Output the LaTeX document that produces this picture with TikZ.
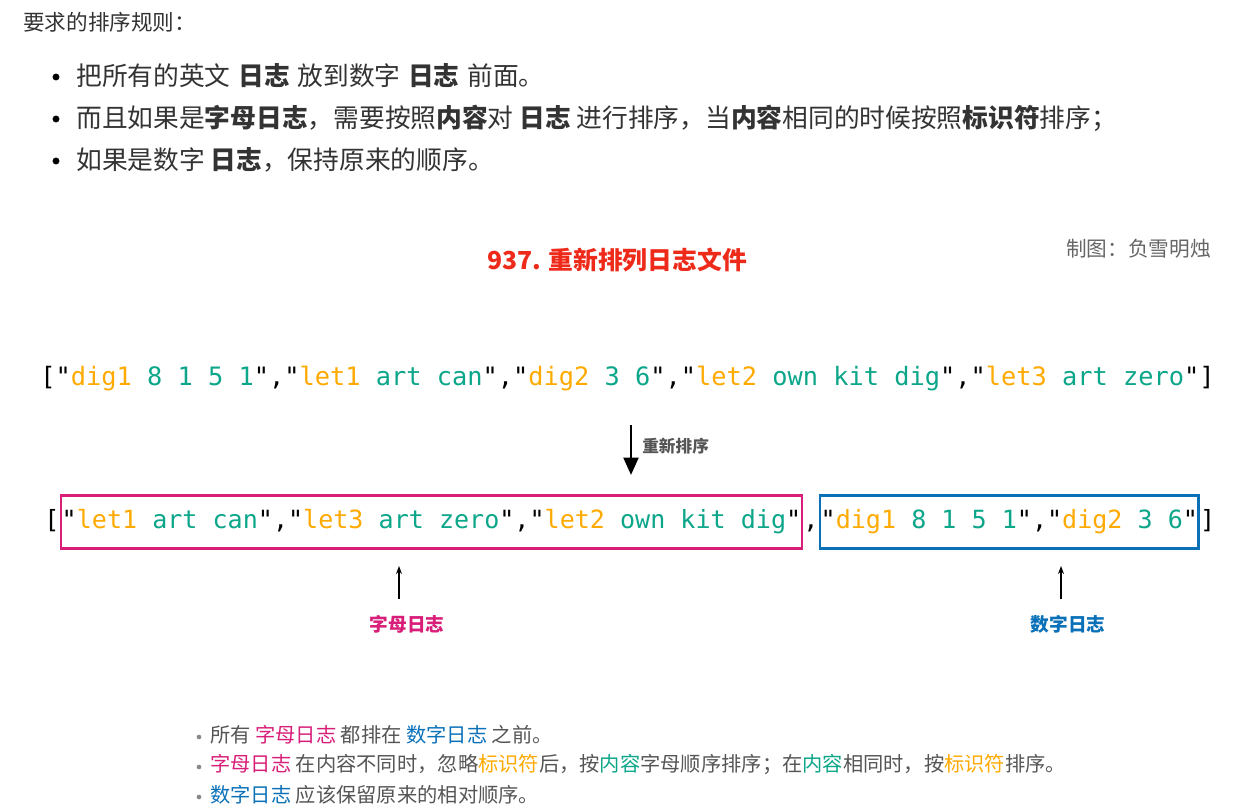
\documentclass[tikz,border=0pt]{standalone}
\usepackage{fontspec}
\setmainfont{Noto Sans CJK SC}
\newfontfamily\codefont{DejaVu Sans Mono}
\usetikzlibrary{arrows.meta,positioning}

\definecolor{keyc}{HTML}{FFAA00}
\definecolor{valc}{HTML}{0CA68A}
\definecolor{letc}{HTML}{D81E78}
\definecolor{digc}{HTML}{0A71B9}
\definecolor{titc}{HTML}{EE2A1A}
\definecolor{txtc}{HTML}{333333}
\definecolor{notec}{HTML}{555555}

\newcommand\ky[1]{\textcolor{keyc}{#1}}
\newcommand\vl[1]{\textcolor{valc}{#1}}
\newcommand\gap{\hspace{0.3em}}

\begin{document}
\begin{tikzpicture}[x=0.75pt,y=-0.75pt,
  code/.style={font=\codefont\fontsize{18.8pt}{22pt}\selectfont,inner sep=0pt,text height=14pt,text depth=4pt},
  logbox/.style={draw=#1,line width=1.9pt,inner xsep=0.5pt,inner ysep=0pt,minimum height=39.5pt},
  line/.style={anchor=west,inner sep=0pt,text=txtc,font=\fontsize{19.3pt}{21pt}\selectfont},
  note/.style={anchor=west,inner sep=0pt,text=notec,font=\fontsize{15.2pt}{17pt}\selectfont},
  dot/.style={circle,fill=#1,inner sep=0pt,minimum size=5.2pt},
  lab/.style={inner sep=0pt,font=\bfseries\fontsize{14pt}{16pt}\selectfont}]
\fill[white] (0,0) rectangle (1254,804);
\useasboundingbox (0,0) rectangle (1254,804);

% rules on top
\node[line,font=\fontsize{16.2pt}{18pt}\selectfont] (head) at (23,22) {要求的排序规则：};
\node[dot=black] (b1) at (56,77) {};
\node[dot=black] (b2) at (56,119) {};
\node[dot=black] (b3) at (56,161) {};
\node[line] (r1) at (76,76) {把所有的英文\gap\textbf{日志}\gap 放到数字\gap\textbf{日志}\gap 前面。};
\node[line] (r2) at (76,118) {而且如果是\textbf{字母日志}，需要按照\textbf{内容}对 \textbf{日志} 进行排序，当\textbf{内容}相同的时候按照\textbf{标识符}排序；};
\node[line] (r3) at (76,160) {如果是数字 \textbf{日志}，保持原来的顺序。};

% title
\node[text=titc,font=\bfseries\fontsize{18.6pt}{20pt}\selectfont] (title) at (617,260) {937. 重新排列日志文件};
\node[anchor=east,inner sep=0pt,text=notec!90,font=\fontsize{15.5pt}{18pt}\selectfont] (author) at (1211,249) {制图：负雪明烛};

% input
\node[code,font=\codefont\fontsize{19pt}{22pt}\selectfont] (orig) at (627.5,379) {["\ky{dig1} \vl{8 1 5 1}","\ky{let1} \vl{art can}","\ky{dig2} \vl{3 6}","\ky{let2} \vl{own kit dig}","\ky{let3} \vl{art zero}"]};

\coordinate (sorttop) at (631,425);
\coordinate (sortbot) at (631,475);
\draw[line width=2.2pt,-{Triangle[length=13pt,width=11pt]}] (sorttop) -- (sortbot);
\node[anchor=west,inner sep=0pt,text=notec,font=\bfseries\fontsize{12.5pt}{14pt}\selectfont] (sortlab) at (642,446) {重新排序};

% output
\node[code] (lbr) at (52,522) {[};
\node[code,logbox=letc,right=0pt of lbr] (letbox) {"\ky{let1} \vl{art can}","\ky{let3} \vl{art zero}","\ky{let2} \vl{own kit dig}"};
\node[code,right=0pt of letbox] (sep) {,};
\node[code,logbox=digc,right=0pt of sep] (digbox) {"\ky{dig1} \vl{8 1 5 1}","\ky{dig2} \vl{3 6}"};
\node[code,right=0pt of digbox] (rbr) {]};

\node[lab,text=letc] (letlab) at (407,624) {字母日志};
\node[lab,text=digc] (diglab) at (1068,624) {数字日志};
\coordinate (letlow) at (399,599);
\coordinate (letup) at (399,566);
\coordinate (diglow) at (1061,599);
\coordinate (digup) at (1061,566);
\draw[line width=0.9pt,-{Stealth[length=6pt,width=4.5pt]}] (letlow) -- (letup);
\draw[line width=0.9pt,-{Stealth[length=6pt,width=4.5pt]}] (diglow) -- (digup);

% notes
\node[dot=notec!70,minimum size=3.5pt] (n1) at (199,737) {};
\node[dot=notec!70,minimum size=3.5pt] (n2) at (199,767) {};
\node[dot=notec!70,minimum size=3.5pt] (n3) at (199,797) {};
\node[note] (t1) at (210,735) {所有 \textcolor{letc}{字母日志} 都排在 \textcolor{digc}{数字日志} 之前。};
\node[note] (t2) at (210,765) {\textcolor{letc}{字母日志} 在内容不同时，忽略\textcolor{keyc}{标识符}后，按\textcolor{valc}{内容}字母顺序排序；在\textcolor{valc}{内容}相同时，按\textcolor{keyc}{标识符}排序。};
\node[note] (t3) at (210,795) {\textcolor{digc}{数字日志} 应该保留原来的相对顺序。};
\end{tikzpicture}
\end{document}
